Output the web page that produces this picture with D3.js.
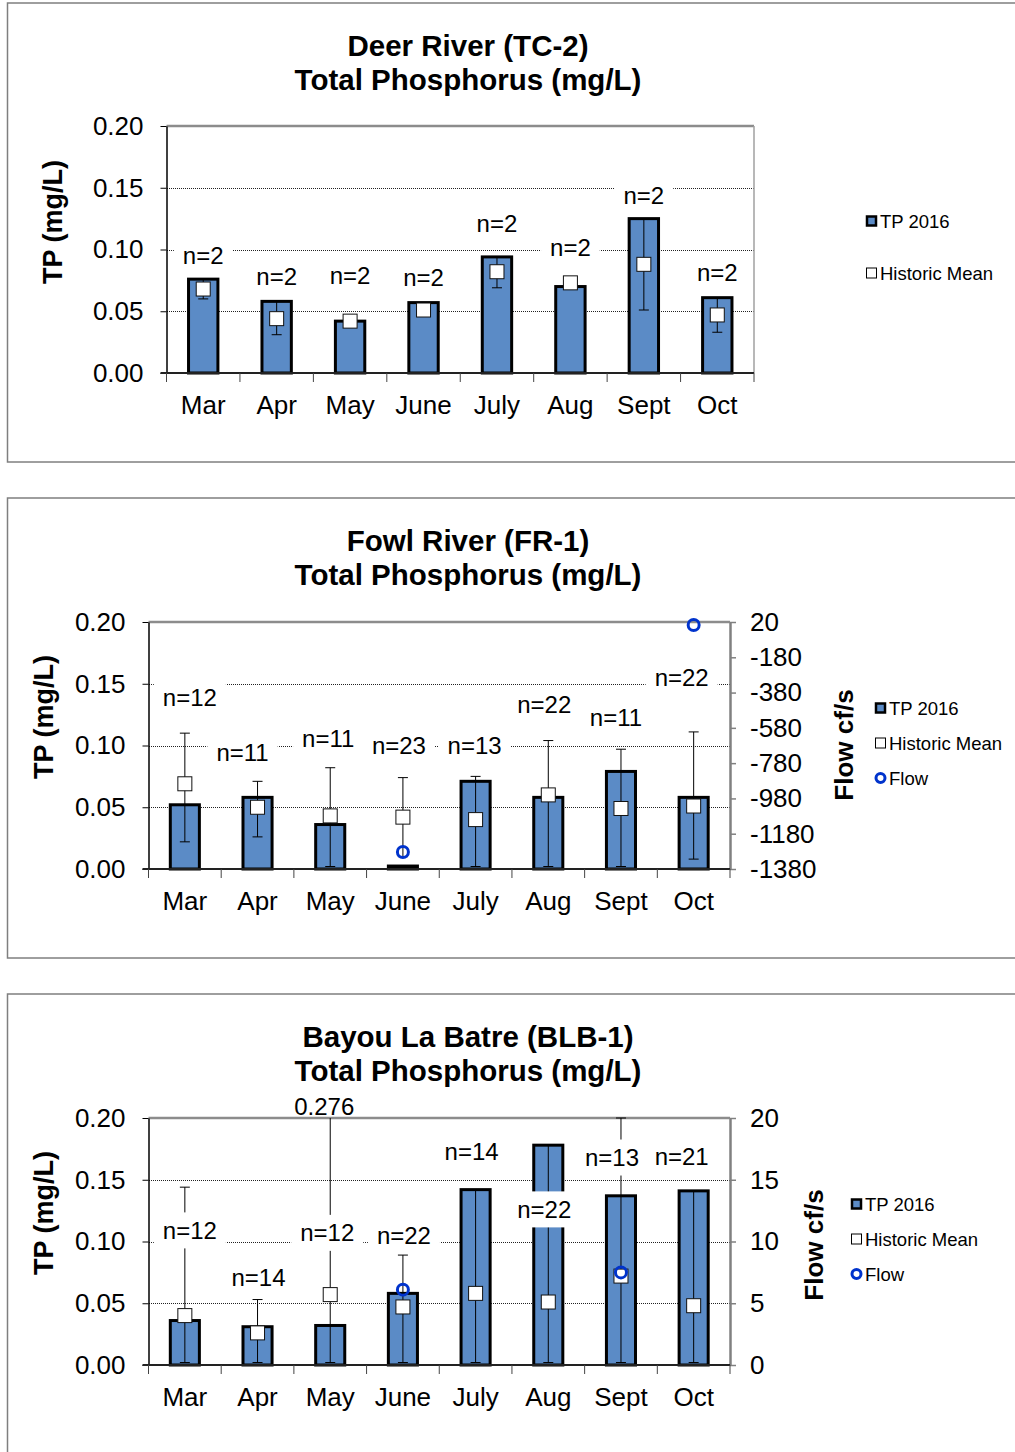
<!DOCTYPE html>
<html>
<head>
<meta charset="utf-8">
<script src="https://d3js.org/d3.v7.min.js"></script>
<style>
  body { margin: 0; background: #fff; }
  text { font-family: "Liberation Sans", Arial, sans-serif; fill: #000; }
</style>
</head>
<body>
<script>
// ---- data ----
const months = ["Mar", "Apr", "May", "June", "July", "Aug", "Sept", "Oct"];
const tpTicks = [0, 0.05, 0.10, 0.15, 0.20];

// Deer River (TC-2)
const deerTP   = [0.076, 0.058, 0.042, 0.057, 0.094, 0.070, 0.125, 0.061];
const deerMean = [0.068, 0.044, 0.042, 0.051, 0.082, 0.073, 0.088, 0.047];
const deerLow  = [0.060, 0.031, null, null, 0.069, null, 0.051, 0.033];
const deerHigh = [0.076, 0.058, null, null, 0.094, null, 0.125, 0.061];
const deerN    = [2, 2, 2, 2, 2, 2, 2, 2];
const deerNAt  = [0.095, 0.078, 0.079, 0.077, 0.121, 0.102, 0.144, 0.081];

// Fowl River (FR-1)
const fowlTP   = [0.052, 0.058, 0.036, 0.0024, 0.071, 0.058, 0.079, 0.058];
const fowlMean = [0.069, 0.050, 0.043, 0.042, 0.040, 0.060, 0.049, 0.051];
const fowlLow  = [0.022, 0.026, 0.002, 0.010, 0.002, 0.002, 0.002, 0.008];
const fowlHigh = [0.110, 0.071, 0.082, 0.074, 0.075, 0.104, 0.097, 0.111];
const fowlN    = [12, 11, 11, 23, 13, 22, 11, 22];
const fowlNAt  = [0.139, 0.094, 0.106, 0.100, 0.100, 0.133, 0.123, 0.155];
const fowlFlow = [null, null, null, -1284, null, null, null, 3];
const fowlFlowTicks = [20, -180, -380, -580, -780, -980, -1180, -1380];

// Bayou La Batre (BLB-1)
const bayouTP   = [0.036, 0.031, 0.032, 0.058, 0.142, 0.178, 0.137, 0.141];
const bayouMean = [0.040, 0.026, 0.057, 0.047, 0.058, 0.051, 0.072, 0.048];
const bayouLow  = [0.002, 0.002, 0.002, 0.002, 0.002, 0.002, 0.002, 0.002];
const bayouHigh = [0.144, 0.053, 0.276, 0.089, 0.142, 0.178, 0.200, 0.141];
const bayouN    = [12, 14, 12, 22, 14, 22, 13, 21];
const bayouNAt  = [0.109, 0.071, 0.107, 0.105, 0.173, 0.126, 0.168, 0.169];
const bayouFlow = [null, null, null, 6.1, null, null, 7.5, null];
const bayouFlowTicks = [0, 5, 10, 15, 20];

// ---- layout ----
const barFill = "#5b8bc6";
const flowBlue = "#0033cc";

const charts = [
  { title: ["Deer River (TC-2)", "Total Phosphorus (mg/L)"],
    tp: deerTP, mean: deerMean, low: deerLow, high: deerHigh, n: deerN, nAt: deerNAt,
    nudge: [0, 0, 0, 0, 0, 0, 0, 0],
    top: 3, height: 459, left: 166.5, right: 754, plotTop: 126, plotBottom: 373,
    yTitleX: 53, legendX: 866, legendRows: [218, 270] },
  { title: ["Fowl River (FR-1)", "Total Phosphorus (mg/L)"],
    tp: fowlTP, mean: fowlMean, low: fowlLow, high: fowlHigh, n: fowlN, nAt: fowlNAt,
    nudge: [5, -15, -2, -4, -1, -4, -5, -12],
    flow: fowlFlow, flowTicks: fowlFlowTicks, flowTitleX: 844, flowTitleY: 247,
    top: 498, height: 460, left: 148.5, right: 730, plotTop: 622, plotBottom: 869,
    yTitleX: 44, legendX: 875, legendRows: [210, 245, 280] },
  { title: ["Bayou La Batre (BLB-1)", "Total Phosphorus (mg/L)"],
    tp: bayouTP, mean: bayouMean, low: bayouLow, high: bayouHigh, n: bayouN, nAt: bayouNAt,
    nudge: [5, 1, -3, 1, -4, -4, -9, -12],
    flow: bayouFlow, flowTicks: bayouFlowTicks, flowTitleX: 814, flowTitleY: 251,
    note: { month: "May", text: "0.276", at: 0.209, dx: -6 },
    top: 994, height: 480, left: 148.5, right: 730, plotTop: 1118, plotBottom: 1365,
    yTitleX: 44, legendX: 851, legendRows: [210, 245, 280] }
];

const svg = d3.select("body").append("svg")
  .attr("width", 1015).attr("height", 1452);

charts.forEach(drawChart);

function drawChart(c) {
  const g = svg.append("g");

  // outer chart frame
  g.append("rect")
    .attr("x", 7.5).attr("y", c.top).attr("width", 1030).attr("height", c.height)
    .attr("fill", "none").attr("stroke", "#7f7f7f").attr("stroke-width", 1.5);

  const x = d3.scaleBand().domain(months).range([c.left, c.right])
    .paddingInner(0.6).paddingOuter(0.3);
  const bw = x.bandwidth();
  const cx = m => x(m) + bw / 2;
  const y = d3.scaleLinear().domain([0, 0.2]).range([c.plotBottom, c.plotTop]);

  const rows = months.map((m, i) => ({
    m, tp: c.tp[i], mean: c.mean[i], low: c.low[i], high: c.high[i],
    n: c.n[i], nAt: c.nAt[i], nudge: c.nudge[i], flow: c.flow ? c.flow[i] : null
  }));

  // dotted gridlines
  g.selectAll(".grid").data(tpTicks.slice(1, 4)).join("line")
    .attr("x1", c.left).attr("x2", c.right)
    .attr("y1", d => Math.round(y(d)) + 0.5).attr("y2", d => Math.round(y(d)) + 0.5)
    .attr("stroke", "#222").attr("stroke-width", 1).attr("stroke-dasharray", "1,1")
    .attr("shape-rendering", "crispEdges");

  // plot frame top / right
  g.append("line")
    .attr("x1", c.left).attr("x2", c.right).attr("y1", y(0.2)).attr("y2", y(0.2))
    .attr("stroke", "#8c8c8c").attr("stroke-width", 2.5);
  if (!c.flow) {
    g.append("line")
      .attr("x1", c.right).attr("x2", c.right).attr("y1", y(0.2)).attr("y2", y(0))
      .attr("stroke", "#a0a0a0").attr("stroke-width", 1.5);
  }

  // TP 2016 bars
  g.selectAll(".bar").data(rows).join("rect")
    .attr("x", d => x(d.m)).attr("y", d => y(d.tp))
    .attr("width", bw).attr("height", d => y(0) - y(d.tp))
    .attr("fill", barFill).attr("stroke", "#000").attr("stroke-width", 3);

  // whiskers
  const wk = rows.filter(d => d.low != null);
  const hiY = d => y(Math.min(d.high, 0.2));
  g.selectAll(".wk").data(wk).join("line")
    .attr("x1", d => cx(d.m)).attr("x2", d => cx(d.m))
    .attr("y1", d => y(d.low)).attr("y2", hiY)
    .attr("stroke", "#000").attr("stroke-width", 1);
  g.selectAll(".capLo").data(wk).join("line")
    .attr("x1", d => cx(d.m) - 5).attr("x2", d => cx(d.m) + 5)
    .attr("y1", d => y(d.low)).attr("y2", d => y(d.low))
    .attr("stroke", "#000").attr("stroke-width", 1);
  g.selectAll(".capHi").data(wk.filter(d => d.high <= 0.2)).join("line")
    .attr("x1", d => cx(d.m) - 5).attr("x2", d => cx(d.m) + 5)
    .attr("y1", hiY).attr("y2", hiY)
    .attr("stroke", "#000").attr("stroke-width", 1);

  // historic mean squares
  g.selectAll(".mean").data(rows).join("rect")
    .attr("x", d => cx(d.m) - 7).attr("y", d => y(d.mean) - 7)
    .attr("width", 14).attr("height", 14)
    .attr("fill", "#fff").attr("stroke", "#111").attr("stroke-width", 1);

  // flow on right axis
  if (c.flow) {
    const yF = d3.scaleLinear().domain(d3.extent(c.flowTicks)).range([c.plotBottom, c.plotTop]);
    g.selectAll(".flow").data(rows.filter(d => d.flow != null)).join("circle")
      .attr("cx", d => cx(d.m)).attr("cy", d => yF(d.flow)).attr("r", 5.5)
      .attr("fill", "none").attr("stroke", flowBlue).attr("stroke-width", 3);

    const ra = g.append("g").attr("transform", `translate(${c.right},0)`)
      .call(d3.axisRight(yF).tickValues(c.flowTicks).tickFormat(d => String(d))
        .tickSize(6).tickSizeOuter(0).tickPadding(14));
    ra.select(".domain").attr("stroke", "#808080").attr("stroke-width", 2.5);
    ra.selectAll(".tick line").attr("stroke", "#808080").attr("stroke-width", 1.5);
    ra.selectAll(".tick text").attr("font-size", 26)
      .attr("font-family", "Liberation Sans, Arial, sans-serif").attr("fill", "#000");

    g.append("text")
      .attr("transform", `translate(${c.flowTitleX},${c.top + c.flowTitleY}) rotate(-90)`)
      .attr("text-anchor", "middle").attr("dominant-baseline", "central")
      .attr("font-size", 26).attr("font-weight", "bold").text("Flow cf/s");
  }

  // left axis
  const la = g.append("g").attr("transform", `translate(${c.left},0)`)
    .call(d3.axisLeft(y).tickValues(tpTicks).tickFormat(d3.format(".2f"))
      .tickSize(6).tickSizeOuter(0).tickPadding(17));
  la.select(".domain").attr("stroke", "#000").attr("stroke-width", 1.5);
  la.selectAll(".tick line").attr("stroke", "#000").attr("stroke-width", 1);
  la.selectAll(".tick text").attr("font-size", 26)
    .attr("font-family", "Liberation Sans, Arial, sans-serif").attr("fill", "#000");

  // bottom axis line, category divider ticks, month labels
  g.append("line")
    .attr("x1", c.left - 6).attr("x2", c.right).attr("y1", y(0)).attr("y2", y(0))
    .attr("stroke", "#222").attr("stroke-width", 2);
  const start = x(months[0]) - x.step() * x.paddingOuter();
  g.selectAll(".div").data(d3.range(months.length + 1)).join("line")
    .attr("x1", i => start + i * x.step()).attr("x2", i => start + i * x.step())
    .attr("y1", y(0)).attr("y2", y(0) + 9)
    .attr("stroke", "#444").attr("stroke-width", 1);
  g.selectAll(".month").data(months).join("text")
    .attr("x", m => cx(m)).attr("y", y(0) + 32)
    .attr("text-anchor", "middle").attr("dominant-baseline", "central")
    .attr("font-size", 26).text(m => m);

  // titles
  g.selectAll(".title").data(c.title).join("text")
    .attr("x", 468).attr("y", (d, i) => c.top + 42 + i * 34)
    .attr("text-anchor", "middle").attr("dominant-baseline", "central")
    .attr("font-size", 29.5).attr("font-weight", "bold").text(d => d);

  g.append("text")
    .attr("transform", `translate(${c.yTitleX},${c.top + 219}) rotate(-90)`)
    .attr("text-anchor", "middle").attr("dominant-baseline", "central")
    .attr("font-size", 27).attr("font-weight", "bold").text("TP (mg/L)");

  // n= labels in white text boxes
  const lab = g.append("g");
  rows.forEach(d => {
    const t = lab.append("text")
      .attr("x", cx(d.m) + d.nudge).attr("y", y(d.nAt))
      .attr("text-anchor", "middle").attr("dominant-baseline", "central")
      .attr("font-size", 24).text("n=" + d.n);
    const b = t.node().getBBox();
    lab.insert("rect", () => t.node())
      .attr("x", b.x - 9).attr("y", y(d.nAt) - 18)
      .attr("width", b.width + 18).attr("height", 36).attr("fill", "#fff");
  });
  if (c.note) {
    g.append("text")
      .attr("x", cx(c.note.month) + c.note.dx).attr("y", y(c.note.at))
      .attr("text-anchor", "middle").attr("dominant-baseline", "central")
      .attr("font-size", 24).text(c.note.text);
  }

  // legend
  const items = [
    { name: "TP 2016", kind: "bar" },
    { name: "Historic Mean", kind: "mean" },
    { name: "Flow", kind: "flow" }
  ].slice(0, c.legendRows.length);
  const lg = g.selectAll(".leg").data(items).join("g")
    .attr("transform", (d, i) => `translate(${c.legendX},${c.top + c.legendRows[i]})`);
  lg.filter(d => d.kind === "bar").append("rect")
    .attr("x", 1).attr("y", -4.5).attr("width", 9).attr("height", 9)
    .attr("fill", barFill).attr("stroke", "#000").attr("stroke-width", 2.5);
  lg.filter(d => d.kind === "mean").append("rect")
    .attr("x", 0.5).attr("y", -5).attr("width", 10).attr("height", 10)
    .attr("fill", "#fff").attr("stroke", "#000").attr("stroke-width", 1);
  lg.filter(d => d.kind === "flow").append("circle")
    .attr("cx", 5.5).attr("cy", 0).attr("r", 4.5)
    .attr("fill", "none").attr("stroke", flowBlue).attr("stroke-width", 3);
  lg.append("text")
    .attr("x", 14).attr("y", 0).attr("dominant-baseline", "central")
    .attr("font-size", 18.5).text(d => d.name);
}
</script>
</body>
</html>
